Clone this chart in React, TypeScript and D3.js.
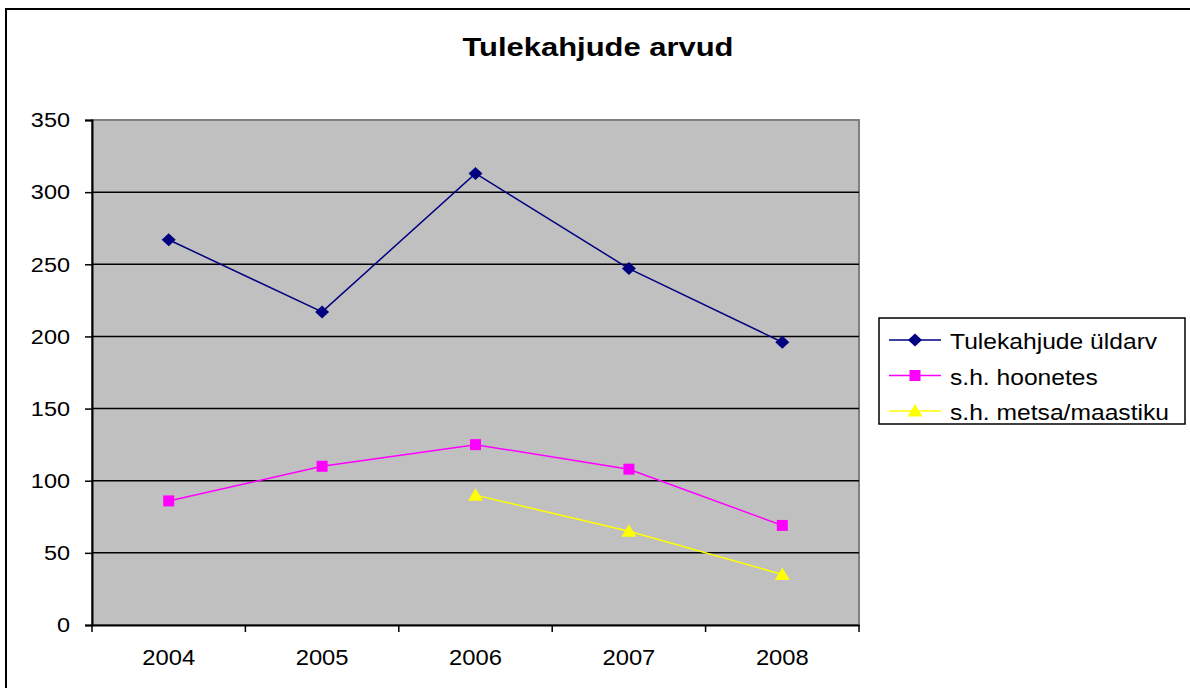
import React, { useEffect, useRef } from 'react';
import * as d3 from 'd3';

const years = ['2004', '2005', '2006', '2007', '2008'];
const totalFires = [267, 217, 313, 247, 196];
const buildingFires = [86, 110, 125, 108, 69];
const forestFires = [null, null, 90, 65, 35];
const yTicks = [0, 50, 100, 150, 200, 250, 300, 350];

const seriesNames = ['Tulekahjude üldarv', 's.h. hoonetes', 's.h. metsa/maastiku'];
const seriesColors = ['#000080', '#ff00ff', '#ffff00'];

// marker paths, Excel-like shapes
const marker = (i: number) => {
  if (i === 0) return 'M0,-6.5L7,0L0,6.5L-7,0Z';
  if (i === 1) return 'M-5.5,-5.5H5.5V5.5H-5.5Z';
  return 'M0,-7L7.5,5.5H-7.5Z';
};

export default function App() {
  const ref = useRef<SVGSVGElement>(null);

  useEffect(() => {
    const svg = d3.select(ref.current);
    svg.selectAll('*').remove();
    const font = 'Arial, "Liberation Sans", sans-serif';

    // outer frame
    svg.append('rect').attr('x', 6).attr('y', 9).attr('width', 1200).attr('height', 700)
      .attr('fill', 'white').attr('stroke', 'black').attr('stroke-width', 2);

    svg.append('text').attr('transform', 'translate(598,56) scale(1.19,1)').attr('text-anchor', 'middle')
      .attr('font-family', font).attr('font-weight', 'bold').attr('font-size', 26)
      .text('Tulekahjude arvud');

    const left = 92, right = 859, top = 120, bottom = 625;
    const x = d3.scaleBand().domain(years).range([left, right]);
    const y = d3.scaleLinear().domain([0, 350]).range([bottom, top]);

    svg.append('rect').attr('x', left).attr('y', top).attr('width', right - left).attr('height', bottom - top)
      .attr('fill', '#c0c0c0').attr('stroke', '#808080').attr('stroke-width', 2);

    // gridlines
    svg.selectAll('.grid').data(yTicks.filter(t => t > 0 && t < 350)).enter().append('line')
      .attr('x1', left).attr('x2', right).attr('y1', d => y(d)).attr('y2', d => y(d))
      .attr('stroke', 'black').attr('stroke-width', 1.5);

    // axes
    const yAxis = svg.append('g').attr('transform', `translate(${left},0)`)
      .call(d3.axisLeft(y).tickValues(yTicks).tickSize(7).tickPadding(12.6));
    yAxis.select('.domain').attr('stroke', 'black').attr('stroke-width', 2);
    yAxis.selectAll('line').attr('stroke', 'black').attr('stroke-width', 1.5);
    yAxis.selectAll('text').attr('font-family', font).attr('font-size', 21).attr('fill', 'black')
      .attr('transform', 'scale(1.12,1)');

    const xAxis = svg.append('g').attr('transform', `translate(0,${bottom})`)
      .call(d3.axisBottom(x).tickSize(0).tickPadding(24));
    xAxis.select('.domain').attr('stroke', 'black').attr('stroke-width', 2);
    xAxis.selectAll('text').attr('font-family', font).attr('font-size', 22).attr('fill', 'black')
      .attr('transform', 'scale(1.08,1)');
    const bounds = years.map(d => x(d)!).concat([right]);
    svg.selectAll('.xt').data(bounds).enter().append('line')
      .attr('x1', d => d).attr('x2', d => d).attr('y1', bottom).attr('y2', bottom + 7)
      .attr('stroke', 'black').attr('stroke-width', 1.5);

    const allSeries = [totalFires, buildingFires, forestFires];
    allSeries.forEach((vals, i) => {
      const pts = years.map((yr, j) => ({ yr, v: vals[j] })).filter(p => p.v !== null) as { yr: string; v: number }[];
      const line = d3.line<{ yr: string; v: number }>()
        .x(p => x(p.yr)! + x.bandwidth() / 2).y(p => y(p.v));
      svg.append('path').attr('d', line(pts)).attr('fill', 'none')
        .attr('stroke', seriesColors[i]).attr('stroke-width', 1.5);
      svg.selectAll('.m' + i).data(pts).enter().append('path')
        .attr('d', marker(i))
        .attr('transform', p => `translate(${x(p.yr)! + x.bandwidth() / 2},${y(p.v)})`)
        .attr('fill', seriesColors[i]);
    });

    // legend
    const lg = svg.append('g');
    lg.append('rect').attr('x', 879).attr('y', 318).attr('width', 306).attr('height', 106)
      .attr('fill', 'white').attr('stroke', 'black').attr('stroke-width', 1.5);
    seriesNames.forEach((name, i) => {
      const ly = 340 + i * 35.5;
      lg.append('line').attr('x1', 889).attr('x2', 941).attr('y1', ly).attr('y2', ly)
        .attr('stroke', seriesColors[i]).attr('stroke-width', 1.5);
      lg.append('path').attr('d', marker(i))
        .attr('transform', `translate(915,${ly})`).attr('fill', seriesColors[i]);
      lg.append('text').attr('transform', `translate(950,${ly + 9}) scale(1.12,1)`).attr('font-family', font)
        .attr('font-size', 22).attr('fill', 'black').text(name);
    });
  }, []);

  return (
    <svg ref={ref} width={1190} height={688}
      style={{ position: 'absolute', left: 0, top: 0, display: 'block', background: 'white' }} />
  );
}
